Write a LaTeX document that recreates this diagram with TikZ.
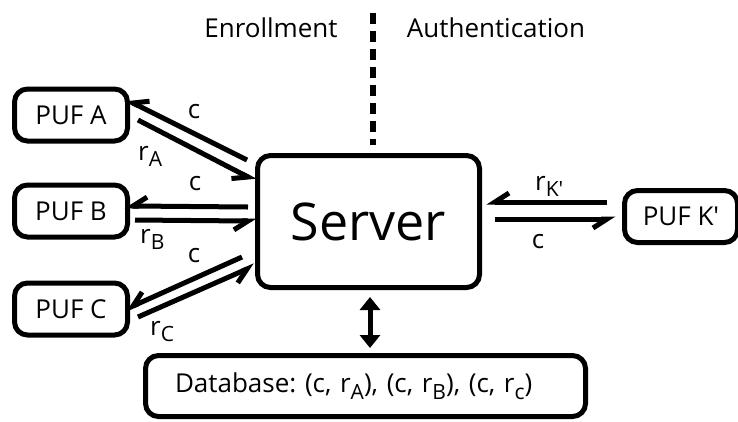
\documentclass[tikz,border=0pt]{standalone}
\usepackage{fontspec}
\setmainfont{Open Sans}
\usetikzlibrary{arrows.meta, positioning, decorations.markings}
\newcommand{\lowidx}[1]{\raisebox{-0.25em}{\fontsize{21}{22}\selectfont #1}}
\tikzstyle{box} = [rectangle, draw=black, line width=5pt, rounded corners=13pt, inner sep=0pt, text centered]
\tikzstyle{puf} = [box, minimum width=113pt, minimum height=52pt]
\tikzstyle{harp} = [line width=5pt, postaction={decorate, decoration={markings,
    mark=at position 1 with {\draw[line width=5pt, line join=miter] (-14,9) -- (0,0) -- (-6,0);}}}]
\tikzstyle{dbarrow} = [line width=5pt, {Triangle[length=13pt, width=20pt]}-{Triangle[length=13pt, width=20pt]}]
\tikzstyle{lbl} = [anchor=base, inner sep=0pt]

\begin{document}
\begin{tikzpicture}[x=1pt, y=-1pt, font=\fontsize{26}{30}\selectfont]
    \useasboundingbox (0,0) rectangle (738,421);

    % phases
    \node (enr)  [lbl] at (271,37) {Enrollment};
    \node (auth) [lbl] at (496,37) {Authentication};
    \draw [line width=6pt, dash pattern=on 11pt off 7pt] (372.5,13) -- (372.5,145);

    % server, devices and database
    \node (srv) [box, minimum width=222pt, minimum height=132pt, font=\fontsize{52}{60}\selectfont] at (368.5,221.5) {Server};
    \node (pufA) [puf] at (71,115) {PUF A};
    \node (pufB) [puf, below=39pt of pufA] {PUF B};
    \node (pufC) [puf, below=41pt of pufB] {PUF C};
    \node (pufK) [puf] at (681,216.5) {PUF K\textquotesingle};
    \node (db) [box, minimum height=61pt, text width=381pt, align=left, inner xsep=29.5pt,
        font=\fontsize{26}{30}\selectfont\frenchspacing] at (365.5,386)
        {Database: (c, r\lowidx{A}), (c, r\lowidx{B}), (c, r\lowidx{c})};

    % challenge / response pairs
    \draw [harp] ([shift={(-8,-61.5)}]srv.west) -- ([shift={(3,-12)}]pufA.east);
    \draw [harp] ([shift={(8,5)}]pufA.east) -- ([shift={(-7,-44.5)}]srv.west);
    \draw [harp] ([shift={(-7,-14.5)}]srv.west) -- ([shift={(3,-5)}]pufB.east);
    \draw [harp] ([shift={(5,9)}]pufB.east) -- ([shift={(-7,-0.5)}]srv.west);
    \draw [harp] ([shift={(-13,35.5)}]srv.west) -- ([shift={(3,-3)}]pufC.east);
    \draw [harp] ([shift={(8,8)}]pufC.east) -- ([shift={(-8,47.5)}]srv.west);
    \draw [harp] ([shift={(-15,-14.5)}]pufK.west) -- ([shift={(13,-19.5)}]srv.east);
    \draw [harp] ([shift={(13,-2.5)}]srv.east) -- ([shift={(-15,2.5)}]pufK.west);

    \node (cA) [lbl] at (194,118) {c};
    \node (rA) [lbl, anchor=base west] at (138,160) {r\lowidx{A}};
    \node (cB) [lbl] at (195,190) {c};
    \node (rB) [lbl, anchor=base west] at (140,243) {r\lowidx{B}};
    \node (cC) [lbl] at (194,262) {c};
    \node (rC) [lbl, anchor=base west] at (150,335) {r\lowidx{C}};
    \node (rK) [lbl, anchor=base west] at (535,190) {r\lowidx{K\textquotesingle}};
    \node (cK) [lbl] at (538,248) {c};

    % server <-> database
    \draw [dbarrow] ([shift={(1.5,7)}]srv.south) -- ([shift={(4.5,-5)}]db.north);

\end{tikzpicture}
\end{document}
